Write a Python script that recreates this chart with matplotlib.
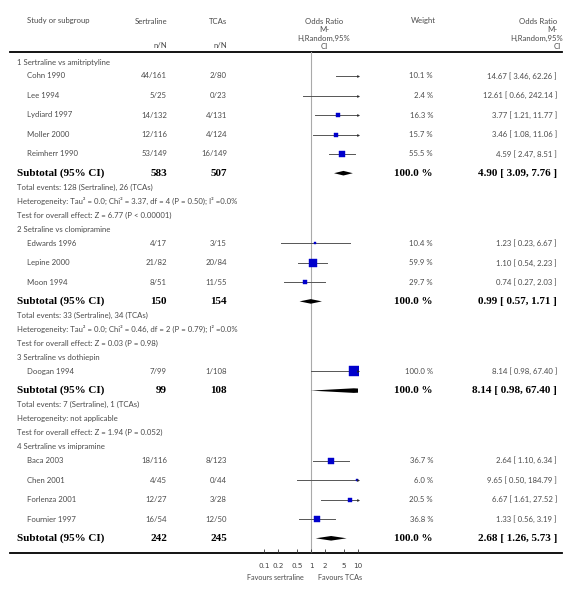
import matplotlib
matplotlib.use("Agg")
import matplotlib.pyplot as plt
import numpy as np

# ---------------- data ----------------
groups = ["1 Sertraline vs amitriptyline", "2 Setraline vs clomipramine",
          "3 Sertraline vs dothiepin", "4 Sertraline vs imipramine"]
study_group = [0, 0, 0, 0, 0, 1, 1, 1, 2, 3, 3, 3, 3]
studies = ["Cohn 1990", "Lee 1994", "Lydiard 1997", "Moller 2000", "Reimherr 1990",
           "Edwards 1996", "Lepine 2000", "Moon 1994",
           "Doogan 1994",
           "Baca 2003", "Chen 2001", "Forlenza 2001", "Fournier 1997"]
sert_n = [44, 5, 14, 12, 53, 4, 21, 8, 7, 18, 4, 12, 16]
sert_N = [161, 25, 132, 116, 149, 17, 82, 51, 99, 116, 45, 27, 54]
tca_n = [2, 0, 4, 4, 16, 3, 20, 11, 1, 8, 0, 3, 12]
tca_N = [80, 23, 131, 124, 149, 15, 84, 55, 108, 123, 44, 28, 50]
weights = [10.1, 2.4, 16.3, 15.7, 55.5, 10.4, 59.9, 29.7, 100.0, 36.7, 6.0, 20.5, 36.8]
or_vals = [14.67, 12.61, 3.77, 3.46, 4.59, 1.23, 1.10, 0.74, 8.14, 2.64, 9.65, 6.67, 1.33]
ci_low = [3.46, 0.66, 1.21, 1.08, 2.47, 0.23, 0.54, 0.27, 0.98, 1.10, 0.50, 1.61, 0.56]
ci_high = [62.26, 242.14, 11.77, 11.06, 8.51, 6.67, 2.23, 2.03, 67.40, 6.34, 184.79, 27.52, 3.19]

sub_sert_N = [583, 150, 99, 242]
sub_tca_N = [507, 154, 108, 245]
sub_weight = [100.0, 100.0, 100.0, 100.0]
sub_or = [4.90, 0.99, 8.14, 2.68]
sub_low = [3.09, 0.57, 0.98, 1.26]
sub_high = [7.76, 1.71, 67.40, 5.73]
sub_info = [
    ["Total events: 128 (Sertraline), 26 (TCAs)",
     "Heterogeneity: Tau² = 0.0; Chi² = 3.37, df = 4 (P = 0.50); I² =0.0%",
     "Test for overall effect: Z = 6.77 (P < 0.00001)"],
    ["Total events: 33 (Sertraline), 34 (TCAs)",
     "Heterogeneity: Tau² = 0.0; Chi² = 0.46, df = 2 (P = 0.79); I² =0.0%",
     "Test for overall effect: Z = 0.03 (P = 0.98)"],
    ["Total events: 7 (Sertraline), 1 (TCAs)",
     "Heterogeneity: not applicable",
     "Test for overall effect: Z = 1.94 (P = 0.052)"],
    None,
]
xticks = [0.1, 0.2, 0.5, 1, 2, 5, 10]
xtick_labels = ["0.1", "0.2", "0.5", "1", "2", "5", "10"]

# ---------------- layout ----------------
W, H = 575, 601
fig = plt.figure(figsize=(W / 100, H / 100), dpi=100)
ax = fig.add_axes([0, 0, 1, 1])
ax.set_xlim(0, W)
ax.set_ylim(H, 0)
ax.axis("off")

top_rule, bot_rule = 52, 553
px0, px1 = 264, 358
axf = fig.add_axes([px0 / W, (H - bot_rule) / H, (px1 - px0) / W, (bot_rule - top_rule) / H])
axf.set_xscale("log")
axf.set_xlim(0.1, 10)
axf.set_ylim(bot_rule, top_rule)
axf.patch.set_alpha(0)
for s in axf.spines.values():
    s.set_visible(False)
axf.set_yticks([])
axf.set_xticks(xticks)
axf.set_xticklabels(xtick_labels)
axf.minorticks_off()
axf.tick_params(axis="x", direction="in", length=3, width=0.6, color="#333",
                labelsize=5.2, labelcolor="#444", pad=7)

FONT = ["Lato", "DejaVu Sans"]
TC = "#4a4a4a"
FS = 5.6
BFS = 8.0
SERIF = "Liberation Serif"

col_study, col_grp = 27, 17
col_sert, col_tca = 167, 227
col_w, col_ci = 433, 557

def txt(x, y, s, ha="left", bold=False, **kw):
    if bold:
        ax.text(x, y, s, ha=ha, va="center", fontsize=BFS, family=SERIF,
                fontweight="bold", color="black", **kw)
    else:
        ax.text(x, y, s, ha=ha, va="center", fontsize=FS, family=FONT,
                color=TC, **kw)

# header
txt(col_study, 21, "Study or subgroup")
txt(col_sert, 21, "Sertraline", ha="right")
txt(col_tca, 21, "TCAs", ha="right")
txt(col_sert, 46, "n/N", ha="right")
txt(col_tca, 46, "n/N", ha="right")
txt(423, 21, "Weight", ha="center")
hdr = ["Odds Ratio", "M-", "H,Random,95%", "CI"]
for i, s in enumerate(hdr):
    txt(324, 21 + i * 8.6, s, ha="center")
    txt(col_ci + (0 if i != 2 else 6) + (4 if i == 3 else 0), 21 + i * 8.6, s, ha="right")

ax.plot([10, 562], [top_rule, top_rule], color="black", lw=1.3)
ax.plot([10, 562], [bot_rule, bot_rule], color="black", lw=1.3)

# rows
y = 62
prev = None
rows = []
for g, gname in enumerate(groups):
    if prev is not None:
        y += 14
    rows.append(("group", y, g))
    prev = "group"
    for i in range(len(studies)):
        if study_group[i] != g:
            continue
        y += 14 if prev == "group" else 19.5
        rows.append(("study", y, i))
        prev = "study"
    y += 19.2
    rows.append(("sub", y, g))
    prev = "sub"
    if sub_info[g]:
        for k, line in enumerate(sub_info[g]):
            y += 14
            rows.append(("info", y, (g, k)))
            prev = "info"

axf.axvline(1, color="#aaaaaa", lw=0.8, zorder=1)

for kind, yy, idx in rows:
    if kind == "group":
        txt(col_grp, yy, groups[idx])
    elif kind == "info":
        g, k = idx
        txt(col_grp, yy, sub_info[g][k])
    elif kind == "study":
        i = idx
        txt(col_study, yy, studies[i])
        txt(col_sert, yy, f"{sert_n[i]}/{sert_N[i]}", ha="right")
        txt(col_tca, yy, f"{tca_n[i]}/{tca_N[i]}", ha="right")
        txt(col_w, yy, f"{weights[i]:.1f} %", ha="right")
        txt(col_ci, yy, f"{or_vals[i]:.2f} [ {ci_low[i]:.2f}, {ci_high[i]:.2f} ]", ha="right")
        axf.plot([ci_low[i], ci_high[i]], [yy, yy], color="#555555", lw=0.7, zorder=2)
        side = 6.6 * np.sqrt(weights[i] / 100.0)
        axf.plot([or_vals[i]], [yy], marker="s", ms=side, color="#0000cc",
                 mec="#0000cc", mew=0.3, zorder=3, linestyle="none")
        if ci_high[i] > 10:
            axf.plot([10], [yy], marker=">", ms=1.5, color="#222222", mew=0.3,
                     clip_on=False, zorder=4, linestyle="none")
        if ci_low[i] < 0.1:
            axf.plot([0.1], [yy], marker="<", ms=1.5, color="#222222", mew=0.3,
                     clip_on=False, zorder=4, linestyle="none")
    elif kind == "sub":
        g = idx
        txt(col_grp, yy, "Subtotal (95% CI)", bold=True)
        txt(col_sert, yy, f"{sub_sert_N[g]}", ha="right", bold=True)
        txt(col_tca, yy, f"{sub_tca_N[g]}", ha="right", bold=True)
        txt(col_w, yy, f"{sub_weight[g]:.1f} %", ha="right", bold=True)
        txt(col_ci, yy, f"{sub_or[g]:.2f} [ {sub_low[g]:.2f}, {sub_high[g]:.2f} ]",
            ha="right", bold=True)
        hh = 2.3
        axf.fill([sub_low[g], sub_or[g], sub_high[g], sub_or[g]],
                 [yy, yy - hh, yy, yy + hh], color="black", zorder=3, lw=0)

ax.text(304, 578, "Favours sertraline", ha="right", va="center", fontsize=5.2,
        family=FONT, color=TC)
ax.text(318, 578, "Favours TCAs", ha="left", va="center", fontsize=5.2,
        family=FONT, color=TC)

fig.savefig("out.png", dpi=100)
